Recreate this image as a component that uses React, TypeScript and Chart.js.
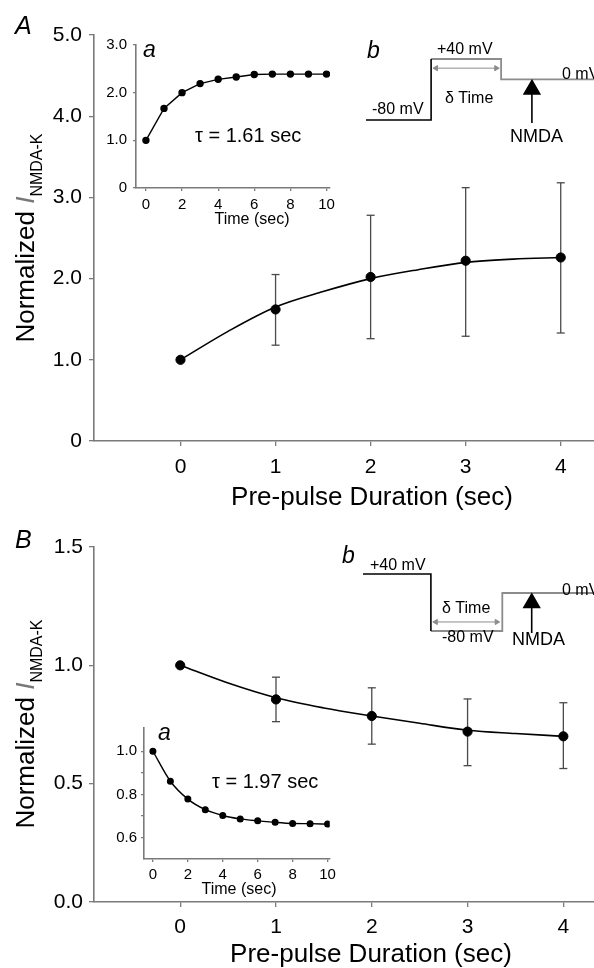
import React, { useEffect, useRef } from 'react';
import { Chart, registerables } from 'chart.js';
Chart.register(...registerables);

const FONT = "'Liberation Sans', Arial, Helvetica, sans-serif";
const AXIS = '#7a7a7a';
const GRAYLINE = '#8c8c8c';
const ERR = '#4a4a4a';

// ---------- Panel A (main) ----------
const DURATION = [0, 1, 2, 3, 4];
const DURATION_TICKS = [0, 1, 2, 3, 4];
const A_MEAN = [1.0, 1.62, 2.02, 2.22, 2.26];
const A_UPPER = [NaN, 2.05, 2.78, 3.12, 3.18];
const A_LOWER = [NaN, 1.18, 1.26, 1.29, 1.33];
const FIT_T = [0, 0.5, 1, 1.5, 2, 2.5, 3, 3.5, 4];
const A_FIT = [1.0, 1.35, 1.65, 1.84, 2.0, 2.11, 2.2, 2.24, 2.26];
const A_Y_TICKS = [0, 1, 2, 3, 4, 5];

// ---------- Panel A inset a ----------
const INSET_TIME = [0, 1, 2, 3, 4, 5, 6, 7, 8, 9, 10];
const INSET_X_TICKS = [0, 2, 4, 6, 8, 10];
const A_INSET = [1.0, 1.67, 2.0, 2.19, 2.28, 2.33, 2.38, 2.39, 2.39, 2.39, 2.39];
const A_INSET_Y_TICKS = [0, 1, 2, 3];

// ---------- Panel B (main) ----------
const B_MEAN = [1.0, 0.856, 0.786, 0.72, 0.7];
const B_UPPER = [NaN, 0.95, 0.905, 0.858, 0.842];
const B_LOWER = [NaN, 0.762, 0.667, 0.576, 0.564];
const B_FIT = [1.0, 0.925, 0.863, 0.82, 0.786, 0.755, 0.726, 0.712, 0.7];
const B_Y_TICKS = [0, 0.5, 1.0, 1.5];

// ---------- Panel B inset a ----------
const B_INSET = [1.0, 0.861, 0.778, 0.729, 0.702, 0.686, 0.677, 0.67, 0.665, 0.664, 0.662];
const B_INSET_Y_TICKS = [0.6, 0.7, 0.8, 0.9, 1.0];
const B_INSET_Y_LABELED = [0.6, 0.8, 1.0];

// ---------- Voltage protocols (time in units of the δ interval, mV) ----------
const PROTO_A_T = [0, 0.93, 0.93, 1.93, 1.93, 3.26];
const PROTO_A_V = [-80, -80, 40, 40, 0, 0];
const PROTO_B_T = [0, 0.97, 0.97, 1.99, 1.99, 3.3];
const PROTO_B_V = [40, 40, -80, -80, 0, 0];
const DELTA_A_T = [1.0, 1.86];
const DELTA_A_V = 22;
const DELTA_B_T = [1.04, 1.91];
const DELTA_B_V = -61;
const NMDA_A_T = 2.37;
const NMDA_A_V = [-20, -86];
const NMDA_B_T = 2.41;
const NMDA_B_V = [-21, -84];

const pts = (xs: number[], ys: number[]) => xs.map((x, i) => ({ x, y: ys[i] }));
const seg = (ts: number[], vs: number[], from: number, to: number) =>
  ts.slice(from, to + 1).map((t, i) => ({ x: t, y: vs[from + i] }));

function axis(o: {
  min: number; max: number; ticks: number[]; label: (v: number) => string;
  size: number; tick: number; pad: number; fit: number; vertical: boolean;
}) {
  return {
    type: 'linear',
    position: o.vertical ? 'left' : 'bottom',
    min: o.min,
    max: o.max,
    afterBuildTicks: (s: any) => { s.ticks = o.ticks.map((v) => ({ value: v })); },
    afterFit: (s: any) => { if (o.vertical) s.width = o.fit; else s.height = o.fit; },
    grid: { drawOnChartArea: false, drawTicks: true, tickLength: o.tick, color: AXIS, lineWidth: 1.3 },
    border: { display: true, color: AXIS, width: 1.6 },
    ticks: {
      autoSkip: false, maxRotation: 0, minRotation: 0, padding: o.pad, color: '#000',
      font: { family: FONT, size: o.size },
      callback: (v: any) => o.label(Number(v)),
    },
  };
}

function hidden(min: number, max: number) {
  return { type: 'linear', display: false, min, max };
}

function baseOptions(padding: any, scales: any) {
  return {
    responsive: false,
    animation: false,
    devicePixelRatio: 1,
    events: [],
    layout: { padding, autoPadding: false },
    plugins: { legend: { display: false }, tooltip: { enabled: false }, title: { display: false } },
    scales,
  };
}

function errorBars(xs: number[], lo: number[], hi: number[]) {
  return xs.flatMap((x, i) =>
    isNaN(lo[i]) ? [] : [{
      data: [{ x, y: lo[i] }, { x, y: hi[i] }],
      showLine: true, borderColor: ERR, borderWidth: 1.3,
      pointStyle: 'line', pointRadius: 4, pointBorderColor: ERR, pointBorderWidth: 1.3,
      pointBackgroundColor: ERR,
    }]);
}

function mainConfig(mean: number[], lo: number[], hi: number[], fit: number[]) {
  return [
    {
      data: pts(DURATION, mean), showLine: false, pointRadius: 4.6,
      pointBackgroundColor: '#000', pointBorderColor: '#000', pointBorderWidth: 1,
    },
    {
      data: pts(FIT_T, fit), showLine: true, borderColor: '#000', borderWidth: 1.6,
      pointRadius: 0, cubicInterpolationMode: 'monotone',
    },
    ...errorBars(DURATION, lo, hi),
  ];
}

function ChartBox(props: { left: number; top: number; width: number; height: number; make: () => any }) {
  const ref = useRef<HTMLCanvasElement>(null);
  useEffect(() => {
    const chart = new Chart(ref.current as HTMLCanvasElement, props.make());
    return () => chart.destroy();
  }, []);
  const { left, top, width, height } = props;
  return (
    <canvas ref={ref} width={width} height={height}
      style={{ position: 'absolute', left, top, width, height }} />
  );
}

function Label(p: { x: number; y: number; size: number; children: React.ReactNode; italic?: boolean; center?: boolean }) {
  const style: React.CSSProperties = {
    position: 'absolute', left: p.x, top: p.y - 0.8465 * p.size, fontSize: p.size,
    lineHeight: `${p.size}px`, fontStyle: p.italic ? 'italic' : 'normal', whiteSpace: 'nowrap',
    fontFamily: FONT, color: '#000',
  };
  if (p.center) style.transform = 'translateX(-50%)';
  return <div style={style}>{p.children}</div>;
}

function YTitle({ cy }: { cy: number }) {
  const W = 300;
  return (
    <div style={{
      position: 'absolute', left: 24.5 - W / 2, top: cy - 13, width: W, height: 26,
      lineHeight: '26px', fontSize: 26, textAlign: 'center', whiteSpace: 'nowrap',
      transform: 'rotate(-90deg)', fontFamily: FONT, color: '#000',
    }}>
      Normalized <span style={{ fontStyle: 'italic', color: '#777' }}>I</span>
      <span style={{ fontSize: 16, position: 'relative', top: 8, lineHeight: 0 }}>NMDA-K</span>
    </div>
  );
}

const fmtMain = (v: number) => (v === 0 ? '0' : v.toFixed(1));

export default function App() {
  return (
    <div style={{ position: 'absolute', left: 0, top: 0, width: 594, height: 968, overflow: 'hidden', background: '#fff' }}>
      {/* Panel A main */}
      <ChartBox left={0} top={0} width={594} height={520} make={() => ({
        type: 'scatter',
        data: { datasets: mainConfig(A_MEAN, A_LOWER, A_UPPER, A_FIT) },
        options: baseOptions({ top: 35, right: 0, left: 0, bottom: 0 }, {
          x: axis({ min: -0.91, max: 4.35, ticks: DURATION_TICKS, label: (v) => String(v), size: 21, tick: 5, pad: 9, fit: 79, vertical: false }),
          y: axis({ min: 0, max: 5, ticks: A_Y_TICKS, label: fmtMain, size: 21, tick: 5, pad: 7, fit: 94, vertical: true }),
        }),
      })} />
      {/* Panel A inset a */}
      <ChartBox left={90} top={30} width={250} height={200} make={() => ({
        type: 'scatter',
        data: {
          datasets: [{
            data: pts(INSET_TIME, A_INSET), showLine: true, borderColor: '#000', borderWidth: 1.4,
            pointRadius: 3, pointBackgroundColor: '#000', pointBorderColor: '#000', tension: 0,
          }],
        },
        options: baseOptions({ top: 13, right: 8, left: 0, bottom: 0 }, {
          x: axis({ min: -0.55, max: 10.2, ticks: INSET_X_TICKS, label: (v) => String(v), size: 15, tick: 3, pad: 5, fit: 42, vertical: false }),
          y: axis({ min: 0, max: 3, ticks: A_INSET_Y_TICKS, label: fmtMain, size: 15, tick: 3, pad: 6, fit: 46, vertical: true }),
        }),
      })} />
      {/* Panel A protocol b */}
      <ChartBox left={366} top={40} width={228} height={100} make={() => ({
        type: 'scatter',
        data: {
          datasets: [
            {
              data: [{ x: NMDA_A_T, y: NMDA_A_V[0] }, { x: NMDA_A_T, y: NMDA_A_V[1] }], showLine: true,
              borderColor: '#000', borderWidth: 1.6, pointStyle: 'triangle', pointRadius: [9, 0],
              pointBackgroundColor: '#000', pointBorderColor: '#000', clip: false,
            },
            {
              data: DELTA_A_T.map((t) => ({ x: t, y: DELTA_A_V })), showLine: true, borderColor: GRAYLINE,
              borderWidth: 1, pointStyle: 'triangle', pointRadius: 3, pointRotation: [-90, 90],
              pointBackgroundColor: GRAYLINE, pointBorderColor: GRAYLINE, clip: false,
            },
            { data: seg(PROTO_A_T, PROTO_A_V, 0, 2), showLine: true, borderColor: '#000', borderWidth: 1.6, pointRadius: 0, clip: false },
            { data: seg(PROTO_A_T, PROTO_A_V, 2, 5), showLine: true, borderColor: GRAYLINE, borderWidth: 1.8, pointRadius: 0, clip: false },
          ],
        },
        options: baseOptions(0, { x: hidden(0, 3.257), y: hidden(-119.3, 77.4) }),
      })} />

      {/* Panel B main */}
      <ChartBox left={0} top={505} width={594} height={463} make={() => ({
        type: 'scatter',
        data: { datasets: mainConfig(B_MEAN, B_LOWER, B_UPPER, B_FIT) },
        options: baseOptions({ top: 42, right: 0, left: 0, bottom: 0 }, {
          x: axis({ min: -0.9, max: 4.32, ticks: DURATION_TICKS, label: (v) => String(v), size: 21, tick: 5, pad: 8, fit: 66, vertical: false }),
          y: axis({ min: 0, max: 1.5, ticks: B_Y_TICKS, label: (v) => v.toFixed(1), size: 21, tick: 5, pad: 6, fit: 94, vertical: true }),
        }),
      })} />
      {/* Panel B inset a */}
      <ChartBox left={90} top={715} width={250} height={190} make={() => ({
        type: 'scatter',
        data: {
          datasets: [{
            data: pts(INSET_TIME, B_INSET), showLine: true, borderColor: '#000', borderWidth: 1.4,
            pointRadius: 2.8, pointBackgroundColor: '#000', pointBorderColor: '#000', cubicInterpolationMode: 'monotone',
          }],
        },
        options: baseOptions({ top: 9, right: 10, left: 0, bottom: 0 }, {
          x: axis({ min: -0.51, max: 10.12, ticks: INSET_X_TICKS, label: (v) => String(v), size: 15, tick: 3, pad: 4, fit: 46, vertical: false }),
          y: axis({
            min: 0.5, max: 1.108, ticks: B_INSET_Y_TICKS,
            label: (v) => (B_INSET_Y_LABELED.some((l) => Math.abs(l - v) < 1e-6) ? v.toFixed(1) : ''),
            size: 15, tick: 3, pad: 4, fit: 54, vertical: true,
          }),
        }),
      })} />
      {/* Panel B protocol b */}
      <ChartBox left={363} top={555} width={231} height={100} make={() => ({
        type: 'scatter',
        data: {
          datasets: [
            {
              data: [{ x: NMDA_B_T, y: NMDA_B_V[0] }, { x: NMDA_B_T, y: NMDA_B_V[1] }], showLine: true,
              borderColor: '#000', borderWidth: 1.6, pointStyle: 'triangle', pointRadius: [9, 0],
              pointBackgroundColor: '#000', pointBorderColor: '#000', clip: false,
            },
            {
              data: DELTA_B_T.map((t) => ({ x: t, y: DELTA_B_V })), showLine: true, borderColor: GRAYLINE,
              borderWidth: 1, pointStyle: 'triangle', pointRadius: 3, pointRotation: [-90, 90],
              pointBackgroundColor: GRAYLINE, pointBorderColor: GRAYLINE, clip: false,
            },
            { data: seg(PROTO_B_T, PROTO_B_V, 0, 2), showLine: true, borderColor: '#000', borderWidth: 1.6, pointRadius: 0, clip: false },
            { data: seg(PROTO_B_T, PROTO_B_V, 2, 5), showLine: true, borderColor: GRAYLINE, borderWidth: 1.8, pointRadius: 0, clip: false },
          ],
        },
        options: baseOptions(0, { x: hidden(0, 3.3), y: hidden(-130.5, 80) }),
      })} />

      {/* Text: panel A */}
      <Label x={15} y={34} size={25} italic>A</Label>
      <YTitle cy={238} />
      <Label x={372} y={505} size={26} center>Pre-pulse Duration (sec)</Label>
      <Label x={143} y={57} size={23} italic>a</Label>
      <Label x={195} y={142} size={20}>τ = 1.61 sec</Label>
      <Label x={252} y={225} size={16} center>Time (sec)</Label>
      <Label x={367} y={58} size={23} italic>b</Label>
      <Label x={437} y={55} size={16}>+40 mV</Label>
      <Label x={445} y={104} size={16}>δ Time</Label>
      <Label x={372} y={115} size={16}>-80 mV</Label>
      <Label x={562} y={80} size={16}>0 mV</Label>
      <Label x={510} y={142} size={18}>NMDA</Label>

      {/* Text: panel B */}
      <Label x={15} y={548} size={25} italic>B</Label>
      <YTitle cy={724} />
      <Label x={371} y={962} size={26} center>Pre-pulse Duration (sec)</Label>
      <Label x={158} y={740} size={23} italic>a</Label>
      <Label x={212} y={788} size={20}>τ = 1.97 sec</Label>
      <Label x={239} y={895} size={16} center>Time (sec)</Label>
      <Label x={342} y={563} size={23} italic>b</Label>
      <Label x={370} y={571} size={16}>+40 mV</Label>
      <Label x={442} y={614} size={16}>δ Time</Label>
      <Label x={442} y={643} size={16}>-80 mV</Label>
      <Label x={562} y={596} size={16}>0 mV</Label>
      <Label x={512} y={645} size={18}>NMDA</Label>
    </div>
  );
}
